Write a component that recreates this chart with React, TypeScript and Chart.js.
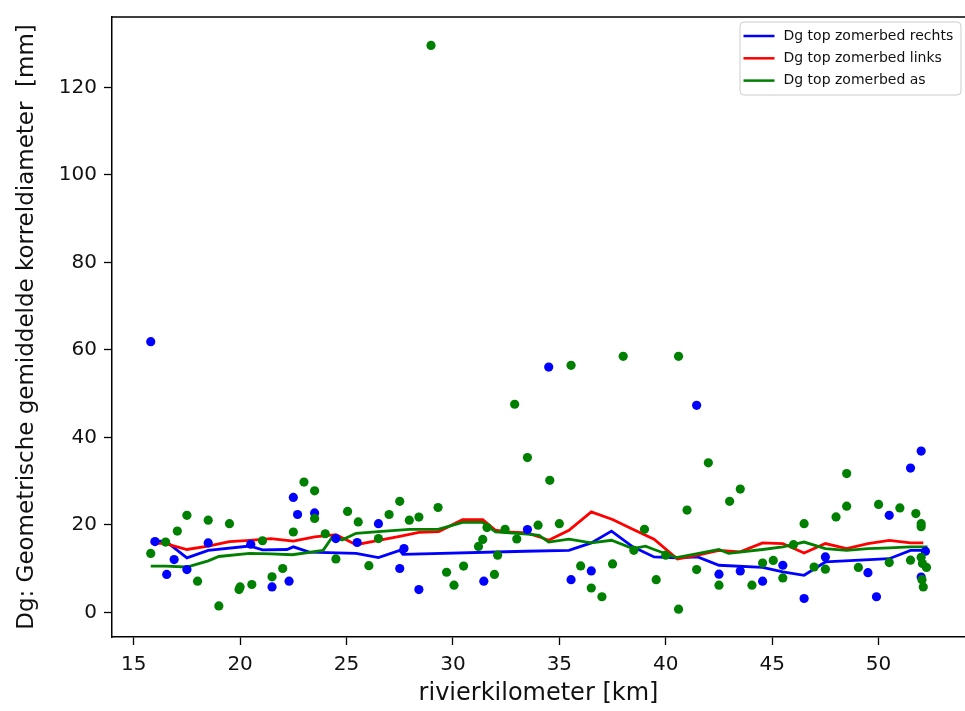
import { useEffect, useRef } from 'react';
import { Chart, registerables } from 'chart.js';

Chart.register(...registerables);

// ---------- data ----------
const xTicks = [15, 20, 25, 30, 35, 40, 45, 50];
const yTicks = [0, 20, 40, 60, 80, 100, 120];

const seriesLabels = ['Dg top zomerbed rechts', 'Dg top zomerbed links', 'Dg top zomerbed as'];
const seriesColors = ['#0000ff', '#ff0000', '#008000'];

const xLabel = 'rivierkilometer [km]';
const yLabel = 'Dg: Geometrische gemiddelde korreldiameter  [mm]';

// lines (rechts / links / as)
const rechtsLineKm = [15.8, 16.5, 17.5, 18.5, 20.45, 21.05, 22.2, 22.5, 23.25, 25.45, 26.5, 27.5, 27.65, 33.4, 35.45, 36.5, 37.45, 38.45, 39.45, 40.5, 41.5, 42.5, 44.55, 45.5, 46.5, 47.5, 50.5, 51.5, 52.2];
const rechtsLineDg = [16.3, 16.3, 12.5, 14.2, 15.2, 14.3, 14.4, 15.0, 13.8, 13.5, 12.55, 14.2, 13.3, 14.0, 14.2, 15.9, 18.6, 15.0, 12.7, 12.5, 12.7, 10.8, 10.3, 9.3, 8.5, 11.55, 12.3, 14.2, 14.2];

const linksLineKm = [15.8, 16.5, 17.5, 18.5, 19.5, 20.45, 21.45, 22.5, 23.5, 24.5, 25.45, 26.5, 27.5, 28.4, 29.33, 30.45, 31.4, 32.0, 32.5, 33.5, 34.05, 34.5, 35.45, 36.5, 37.5, 38.45, 39.45, 40.55, 41.5, 42.5, 43.5, 44.55, 45.5, 46.5, 47.5, 48.5, 49.5, 50.5, 51.5, 52.1];
const linksLineDg = [15.9, 15.75, 14.4, 15.15, 16.2, 16.5, 16.9, 16.3, 17.3, 17.8, 15.5, 16.5, 17.4, 18.3, 18.5, 21.2, 21.2, 18.8, 18.4, 18.2, 17.3, 16.5, 18.8, 23.0, 21.25, 19.0, 16.75, 12.2, 13.1, 14.2, 13.85, 15.9, 15.75, 13.6, 15.75, 14.6, 15.75, 16.5, 15.9, 15.9];

const asLineKm = [15.8, 16.5, 17.5, 18.5, 19.0, 20.45, 21.45, 22.45, 23.9, 24.35, 24.8, 25.45, 26.5, 27.95, 29.3, 29.8, 30.45, 31.4, 32.0, 33.5, 34.05, 34.5, 35.45, 36.5, 37.45, 38.45, 39.05, 39.45, 40.5, 41.55, 42.5, 42.95, 44.55, 45.5, 46.5, 47.5, 48.5, 49.5, 50.5, 51.5, 52.3];
const asLineDg = [10.6, 10.6, 10.4, 11.8, 12.8, 13.5, 13.4, 13.2, 14.2, 17.4, 16.6, 18.1, 18.5, 19.0, 19.0, 19.7, 20.6, 20.6, 18.4, 17.9, 17.65, 16.1, 16.75, 15.9, 16.5, 14.6, 15.15, 14.4, 12.55, 13.5, 14.4, 13.5, 14.4, 15.0, 16.1, 14.6, 14.2, 14.6, 14.75, 15.0, 15.0];

// scatter points
const rechtsPtKm = [15.8, 16.0, 16.55, 16.9, 17.5, 18.5, 20.5, 21.5, 22.3, 22.5, 22.7, 23.5, 24.5, 25.5, 26.5, 27.5, 27.7, 28.4, 31.45, 33.5, 34.5, 35.55, 36.5, 41.45, 42.5, 43.5, 44.55, 45.5, 46.5, 47.5, 49.5, 49.9, 50.5, 51.5, 52.0, 52.0, 52.2];
const rechtsPtDg = [61.9, 16.2, 8.7, 12.1, 9.8, 15.9, 15.6, 5.85, 7.15, 26.3, 22.4, 22.75, 16.9, 16.0, 20.3, 10.05, 14.6, 5.25, 7.15, 18.95, 56.1, 7.5, 9.5, 47.35, 8.75, 9.5, 7.15, 10.8, 3.2, 12.7, 9.1, 3.6, 22.2, 33.0, 36.9, 8.1, 14.0];

const asPtKm = [15.8, 16.5, 17.05, 17.5, 18.0, 18.5, 19.0, 19.5, 19.95, 20.0, 20.55, 21.05, 21.5, 22.0, 22.5, 23.0, 23.5, 23.5, 24.0, 24.5, 25.05, 25.55, 26.05, 26.5, 27.0, 27.5, 27.95, 28.4, 28.97, 29.3, 29.7, 30.05, 30.5, 31.2, 31.4, 31.6, 31.95, 32.1, 32.45, 32.9, 33.0, 33.5, 34.0, 34.55, 35.0, 35.55, 36.0, 36.5, 37.0, 37.5, 38.0, 38.5, 39.0, 39.55, 40.0, 40.6, 40.6, 41.0, 41.45, 42.0, 42.5, 43.0, 43.5, 44.05, 44.55, 45.05, 45.5, 46.0, 46.5, 46.97, 47.5, 48.0, 48.5, 48.5, 49.05, 50.0, 50.5, 51.0, 51.5, 51.75, 52.0, 52.0, 52.0, 52.06, 52.25, 52.04, 52.1];
const asPtDg = [13.5, 16.1, 18.6, 22.2, 7.15, 21.1, 1.5, 20.3, 5.25, 5.85, 6.4, 16.4, 8.15, 10.05, 18.4, 29.8, 27.8, 21.5, 18.0, 12.25, 23.1, 20.7, 10.7, 16.9, 22.4, 25.4, 21.1, 21.8, 129.6, 24.0, 9.2, 6.25, 10.6, 15.1, 16.7, 19.4, 8.7, 13.1, 19.0, 47.6, 16.8, 35.4, 19.95, 30.2, 20.3, 56.5, 10.65, 5.6, 3.6, 11.1, 58.55, 14.2, 19.0, 7.5, 13.1, 58.55, 0.75, 23.4, 9.8, 34.2, 6.25, 25.4, 28.2, 6.25, 11.3, 11.9, 7.9, 15.5, 20.3, 10.4, 9.9, 21.85, 24.3, 31.75, 10.3, 24.7, 11.4, 23.9, 11.95, 22.6, 20.3, 19.6, 12.6, 11.2, 10.3, 7.5, 5.85];

const xMin = 13.98;
const xMax = 54.06;
const yMin = -5.6;
const yMax = 136.1;

const pts = (xs: number[], ys: number[]) => xs.map((x, i) => ({ x, y: ys[i] }));

const FONT = 'DejaVu Sans';

const framePlugin = {
  id: 'frameAndLegend',
  afterDraw(chart: any) {
    const { ctx, chartArea } = chart;
    ctx.save();
    // top spine
    ctx.strokeStyle = '#000';
    ctx.lineWidth = 1.5;
    ctx.beginPath();
    ctx.moveTo(chartArea.left - 0.75, chartArea.top);
    ctx.lineTo(chartArea.right + 2, chartArea.top);
    ctx.stroke();

    // legend box
    const bw = 221;
    const bh = 73;
    const bx = chartArea.right - 4 - bw;
    const by = chartArea.top + 5;
    const r = 4;
    ctx.beginPath();
    ctx.moveTo(bx + r, by);
    ctx.lineTo(bx + bw - r, by);
    ctx.arcTo(bx + bw, by, bx + bw, by + r, r);
    ctx.lineTo(bx + bw, by + bh - r);
    ctx.arcTo(bx + bw, by + bh, bx + bw - r, by + bh, r);
    ctx.lineTo(bx + r, by + bh);
    ctx.arcTo(bx, by + bh, bx, by + bh - r, r);
    ctx.lineTo(bx, by + r);
    ctx.arcTo(bx, by, bx + r, by, r);
    ctx.closePath();
    ctx.fillStyle = 'rgba(255,255,255,0.8)';
    ctx.fill();
    ctx.strokeStyle = '#cccccc';
    ctx.lineWidth = 1;
    ctx.stroke();

    ctx.font = `14px "${FONT}"`;
    ctx.textBaseline = 'middle';
    ctx.textAlign = 'left';
    seriesLabels.forEach((label, i) => {
      const y = by + 14 + i * 22.3;
      ctx.strokeStyle = seriesColors[i];
      ctx.lineWidth = 2.5;
      ctx.beginPath();
      ctx.moveTo(bx + 3.5, y);
      ctx.lineTo(bx + 34.5, y);
      ctx.stroke();
      ctx.fillStyle = '#111';
      ctx.fillText(label, bx + 43.5, y);
    });
    ctx.restore();
  },
};

export default function App() {
  const ref = useRef<HTMLCanvasElement | null>(null);

  useEffect(() => {
    if (!ref.current) return;
    const lineDs = (i: number, xs: number[], ys: number[]) => ({
      type: 'line' as const,
      label: seriesLabels[i],
      data: pts(xs, ys),
      borderColor: seriesColors[i],
      backgroundColor: seriesColors[i],
      borderWidth: 2.8,
      pointRadius: 0,
      tension: 0,
      fill: false,
      order: 5 - i,
    });
    const scatterDs = (i: number, xs: number[], ys: number[], order: number) => ({
      type: 'scatter' as const,
      label: seriesLabels[i] + ' (punten)',
      data: pts(xs, ys),
      backgroundColor: seriesColors[i],
      borderColor: seriesColors[i],
      borderWidth: 0,
      pointRadius: 4.6,
      showLine: false,
      order,
    });

    const tickFont = { family: FONT, size: 20 };

    const chart = new Chart(ref.current, {
      type: 'scatter',
      data: {
        datasets: [
          lineDs(0, rechtsLineKm, rechtsLineDg),
          lineDs(1, linksLineKm, linksLineDg),
          lineDs(2, asLineKm, asLineDg),
          scatterDs(0, rechtsPtKm, rechtsPtDg, 1),
          scatterDs(2, asPtKm, asPtDg, 0),
        ] as any,
      },
      options: {
        animation: false,
        responsive: false,
        devicePixelRatio: 1,
        layout: { autoPadding: false, padding: { top: 17, right: 0, bottom: 0, left: 0 } },
        plugins: { legend: { display: false }, tooltip: { enabled: false } },
        scales: {
          x: {
            type: 'linear',
            min: xMin,
            max: xMax,
            afterBuildTicks: (s: any) => {
              s.ticks = xTicks.map((v) => ({ value: v }));
            },
            afterFit: (s: any) => {
              s.height = 74;
              s.paddingLeft = 0;
              s.paddingRight = 0;
            },
            grid: { display: true, drawOnChartArea: false, drawTicks: true, tickLength: 8, tickWidth: 1.3, tickColor: '#000' },
            border: { display: true, color: '#000', width: 1.5 },
            ticks: { color: '#111', font: tickFont, padding: 8, maxRotation: 0, autoSkip: false },
            title: { display: true, text: xLabel, color: '#111', font: { family: FONT, size: 24 }, padding: { top: 0, bottom: 3 } },
          },
          y: {
            type: 'linear',
            min: yMin,
            max: yMax,
            afterBuildTicks: (s: any) => {
              s.ticks = yTicks.map((v) => ({ value: v }));
            },
            afterFit: (s: any) => {
              s.width = 112;
              s.paddingTop = 0;
              s.paddingBottom = 0;
            },
            grid: { display: true, drawOnChartArea: false, drawTicks: true, tickLength: 8, tickWidth: 1.3, tickColor: '#000' },
            border: { display: true, color: '#000', width: 1.5 },
            ticks: { color: '#111', font: tickFont, padding: 7, autoSkip: false },
            title: { display: true, text: yLabel, color: '#111', font: { family: FONT, size: 23 }, padding: { top: 13, bottom: 0 } },
          },
        },
      } as any,
      plugins: [framePlugin],
    });
    return () => chart.destroy();
  }, []);

  return (
    <div style={{ position: 'fixed', left: 0, top: 0, width: 965, height: 711, overflow: 'hidden', background: '#fff' }}>
      <canvas ref={ref} width={965} height={711} style={{ display: 'block', width: 965, height: 711 }} />
    </div>
  );
}
